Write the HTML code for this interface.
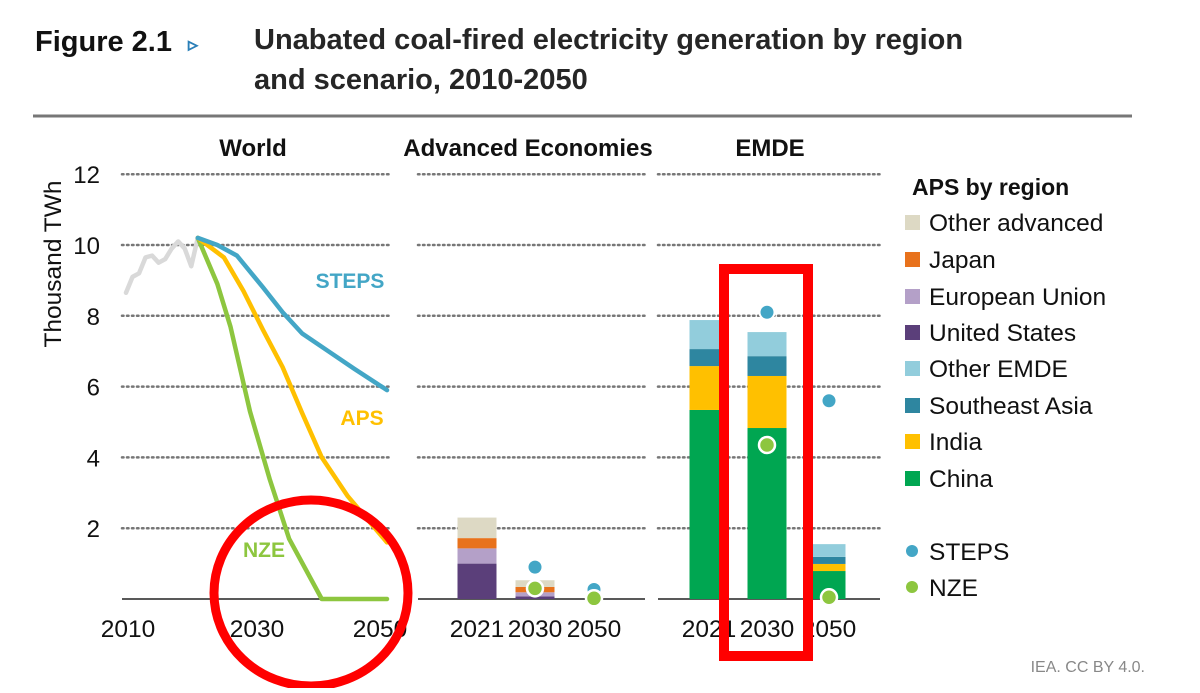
<!DOCTYPE html>
<html><head><meta charset="utf-8"><style>
body{margin:0;background:#fff;width:1200px;height:688px;overflow:hidden;font-family:"Liberation Sans",sans-serif}
</style></head><body>
<svg id="c" width="1200" height="688" xmlns="http://www.w3.org/2000/svg" font-family="Liberation Sans, sans-serif">
<text x="35" y="51" font-size="29" font-weight="bold" fill="#111">Figure 2.1 <tspan fill="#2a7fb8" font-size="20" dx="8">▹</tspan></text>
<text x="254" y="49" font-size="29" font-weight="bold" fill="#262626">Unabated coal-fired electricity generation by region</text>
<text x="254" y="89" font-size="29" font-weight="bold" fill="#262626">and scenario, 2010-2050</text>
<line x1="33" y1="116" x2="1132" y2="116" stroke="#777" stroke-width="3"/>
<g id="plot"></g>
<text x="1145" y="672" font-size="16" fill="#888" text-anchor="end">IEA. CC BY 4.0.</text>
</svg>
<script>
const yTicks=[2,4,6,8,10,12];
const histYears=[2010,2011,2012,2013,2014,2015,2016,2017,2018,2019,2020,2021];
const histVals=[8.65,9.1,9.2,9.65,9.7,9.5,9.6,9.9,10.1,9.9,9.4,10.2];
const stepsYears=[2021,2024,2027,2031,2034,2037,2041,2045,2050];
const stepsVals=[10.2,10.0,9.7,8.8,8.1,7.5,7.0,6.5,5.9];
const apsYears=[2021,2025,2028,2031,2034,2037,2040,2044,2050];
const apsVals=[10.2,9.65,8.7,7.6,6.55,5.25,4.0,2.9,1.6];
const nzeYears=[2021,2024,2026,2029,2032,2035,2040,2050];
const nzeVals=[10.2,8.9,7.7,5.3,3.4,1.7,0,0];
const aeCats=["2021","2030","2050"];
const aeUS=[1.0,0.07,0];
const aeEU=[0.43,0.12,0];
const aeJapan=[0.29,0.15,0];
const aeOther=[0.58,0.19,0];
const aeSteps=[null,0.9,0.27];
const aeNze=[null,0.3,0.02];
const emCats=["2021","2030","2050"];
const emChina=[5.34,4.83,0.79];
const emIndia=[1.24,1.47,0.2];
const emSEA=[0.48,0.56,0.2];
const emOther=[0.82,0.68,0.36];
const emSteps=[null,8.1,5.6];
const emNze=[null,4.35,0.05];

const NS="http://www.w3.org/2000/svg";
const g=document.getElementById('plot');
function el(t,a,p){const e=document.createElementNS(NS,t);for(const k in a)e.setAttribute(k,a[k]);(p||g).appendChild(e);return e;}
const y=v=>599-v*35.4;
const xw=yr=>126+(yr-2010)*6.525;
const C={china:"#00a651",india:"#ffc000",sea:"#2e86a0",oemde:"#92cddc",us:"#5b3f7a",eu:"#b4a0c8",jp:"#e8721c",oadv:"#ddd9c4",steps:"#43a6c6",aps:"#ffc000",nze:"#8dc63f"};
const panels=[[122,389,"World",253],[418,645,"Advanced Economies",528],[658,880,"EMDE",770]];
panels.forEach((p,i)=>{
  yTicks.forEach(t=>{const l=el('line',{x1:p[0],x2:p[1],y1:y(t),y2:y(t),stroke:"#777","stroke-width":2.5,"stroke-dasharray":"1.5 3.5","stroke-linecap":"round"});
  
  });
  const a=el('line',{x1:p[0],x2:p[1],y1:599,y2:599,stroke:"#222","stroke-width":1.5});
  
  
  const t=el('text',{x:p[3],y:156,"font-size":24,"font-weight":"bold","text-anchor":"middle",fill:"#111"});t.textContent=p[2];
  
  
});
yTicks.forEach(t=>{const e=el('text',{x:100,y:y(t)+9,"font-size":24,"text-anchor":"end",fill:"#111"});e.textContent=t;

});
const yt=el('text',{x:0,y:0,"font-size":24.5,"text-anchor":"middle",fill:"#111",transform:"translate(61,264) rotate(-90)"});yt.textContent="Thousand TWh";


function line(xs,vs,col,name){const pts=xs.map((yr,i)=>xw(yr)+","+y(vs[i])).join(" ");
const e=el('polyline',{points:pts,fill:"none",stroke:col,"stroke-width":4.5,"stroke-linejoin":"round","stroke-linecap":"round"});

}
line(histYears,histVals,"#d9d9d9","history-line");
line(nzeYears,nzeVals,C.nze,"nze-line");
line(apsYears,apsVals,C.aps,"aps-line");
line(stepsYears,stepsVals,C.steps,"steps-line");
[["STEPS",350,288,C.steps],["APS",362,425,"#ffc000"],["NZE",264,557,C.nze]].forEach(l=>{const e=el('text',{x:l[1],y:l[2],"font-size":21,"font-weight":"bold","text-anchor":"middle",fill:l[3]});e.textContent=l[0];

});
[[2010,128],[2030,257],[2050,380]].forEach(l=>{const e=el('text',{x:l[1],y:637,"font-size":24.5,"text-anchor":"middle",fill:"#111"});e.textContent=l[0];

});
function bars(cats,centers,w,series,cols,steps,nze){
 cats.forEach((c,i)=>{let base=0;
  series.forEach((s,j)=>{const v=s[i];if(v>0){const r=el('rect',{x:centers[i]-w[i]/2,y:y(base+v),width:w[i],height:v*35.4,fill:cols[j]});
   
   }base+=v;});
  const lb=el('text',{x:centers[i],y:637,"font-size":24.5,"text-anchor":"middle",fill:"#111"});lb.textContent=c;
  
  
  if(steps[i]!=null){const d=el('circle',{cx:centers[i],cy:y(steps[i]),r:7.5,fill:C.steps,stroke:"#fff","stroke-width":2});
   
   }
  if(nze[i]!=null){const d=el('circle',{cx:centers[i],cy:y(nze[i]),r:8,fill:C.nze,stroke:"#fff","stroke-width":2.5});
   
   }
 });}
bars(aeCats,[477,535,594],[39,39,39],[aeUS,aeEU,aeJapan,aeOther],[C.us,C.eu,C.jp,C.oadv],aeSteps,aeNze);
bars(emCats,[709,767,829],[39,39,33],[emChina,emIndia,emSEA,emOther],[C.china,C.india,C.sea,C.oemde],emSteps,emNze);
const lt=el('text',{x:912,y:195,"font-size":23,"font-weight":"bold",fill:"#111"});lt.textContent="APS by region";


[["Other advanced",C.oadv,222],["Japan",C.jp,259],["European Union",C.eu,296],["United States",C.us,332],["Other EMDE",C.oemde,368],["Southeast Asia",C.sea,405],["India",C.india,441],["China",C.china,478]].forEach(l=>{
 const r=el('rect',{x:905,y:l[2]-7,width:15,height:15,fill:l[1]});
 
 
 const t=el('text',{x:929,y:l[2]+9,"font-size":24.5,fill:"#111"});t.textContent=l[0];
 
 });
[["STEPS",C.steps,551],["NZE",C.nze,587]].forEach(l=>{
 const c=el('circle',{cx:912,cy:l[2],r:6,fill:l[1]});
 
 
 const t=el('text',{x:929,y:l[2]+9,"font-size":24.5,fill:"#111"});t.textContent=l[0];
 
 });
const ell=el('ellipse',{cx:311,cy:593,rx:97,ry:93,fill:"none",stroke:"#f00","stroke-width":9});


const rr=el('rect',{x:724,y:269,width:84,height:387,fill:"none",stroke:"#f00","stroke-width":10});


</script>
</body></html>
